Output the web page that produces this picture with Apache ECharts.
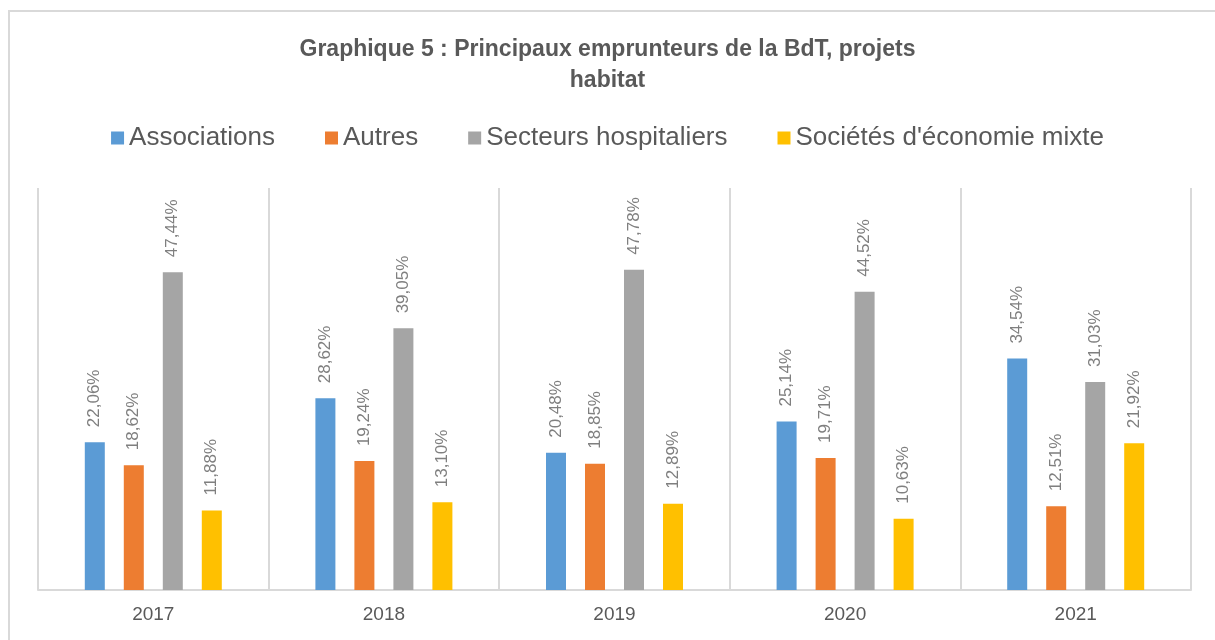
<!DOCTYPE html>
<html>
<head>
<meta charset="utf-8">
<script src="https://cdn.jsdelivr.net/npm/echarts@6/dist/echarts.min.js"></script>
<style>
  html, body { margin: 0; padding: 0; background: #fff; }
  #chart { width: 1215px; height: 640px; }
</style>
</head>
<body>
<div id="chart"></div>
<script>
const years = ['2017', '2018', '2019', '2020', '2021'];
const seriesNames = ['Associations', 'Autres', 'Secteurs hospitaliers', "Sociétés d'économie mixte"];
const associations = [22.06, 28.62, 20.48, 25.14, 34.54];
const autres = [18.62, 19.24, 18.85, 19.71, 12.51];
const hospitaliers = [47.44, 39.05, 47.78, 44.52, 31.03];
const sem = [11.88, 13.10, 12.89, 10.63, 21.92];
const colors = ['#5b9bd5', '#ed7d31', '#a5a5a5', '#ffc000'];

const textColor = '#595959';
const lineColor = '#d9d9d9';
const font = 'Liberation Sans, Arial, sans-serif';

function fmt(v) {
  return v.toFixed(2).replace('.', ',') + '%';
}

function makeSeries(name, data, color) {
  return {
    name: name,
    type: 'bar',
    data: data,
    barWidth: 20,
    barGap: '95%',
    itemStyle: { color: color },
    label: {
      show: true,
      position: 'top',
      rotate: 90,
      align: 'left',
      verticalAlign: 'middle',
      distance: 15,
      color: '#7f7f7f',
      fontSize: 17,
      fontFamily: font,
      formatter: (p) => fmt(p.value)
    }
  };
}

const chart = echarts.init(document.getElementById('chart'));
chart.setOption({
  backgroundColor: '#fff',
  animation: false,
  color: colors,
  title: {
    text: 'Graphique 5 : Principaux emprunteurs de la BdT, projets\nhabitat',
    left: 'center',
    top: 29,
    textStyle: {
      color: textColor,
      fontSize: 23,
      fontWeight: 'bold',
      fontFamily: font,
      lineHeight: 31
    }
  },
  legend: {
    top: 120,
    left: 'center',
    itemWidth: 13,
    itemHeight: 13,
    itemGap: 50,
    icon: 'rect',
    textStyle: {
      color: textColor,
      fontSize: 26,
      fontFamily: font
    },
    data: seriesNames
  },
  graphic: [{
    type: 'rect',
    shape: { x: 9, y: 11, width: 1400, height: 800 },
    style: { fill: 'none', stroke: lineColor, lineWidth: 2 },
    silent: true
  }],
  grid: { left: 38, right: 24, top: 188, bottom: 50 },
  xAxis: {
    type: 'category',
    data: years,
    axisLine: { lineStyle: { color: lineColor, width: 2 } },
    axisTick: { show: false },
    splitLine: { show: true, lineStyle: { color: lineColor, width: 2 } },
    axisLabel: {
      color: textColor,
      fontSize: 19,
      margin: 15,
      fontFamily: font
    }
  },
  yAxis: {
    type: 'value',
    min: 0,
    max: 60,
    show: false
  },
  series: [
    makeSeries(seriesNames[0], associations, colors[0]),
    makeSeries(seriesNames[1], autres, colors[1]),
    makeSeries(seriesNames[2], hospitaliers, colors[2]),
    makeSeries(seriesNames[3], sem, colors[3])
  ]
});
</script>
</body>
</html>
